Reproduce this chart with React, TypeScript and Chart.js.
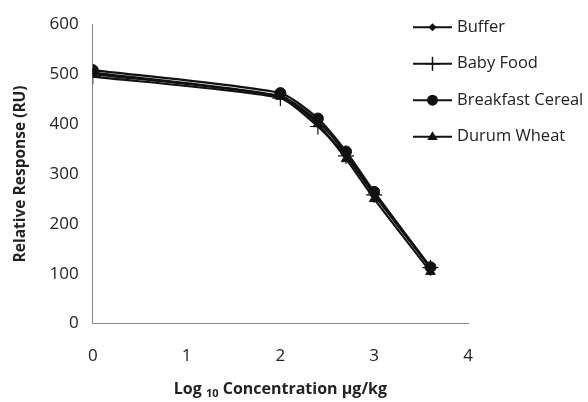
import React, { useEffect, useRef } from "react";
import { Chart, registerables } from "chart.js";

Chart.register(...registerables);

const concentrations = [0, 2, 2.4, 2.7, 3, 3.6];
const seriesNames = ["Buffer", "Baby Food", "Breakfast Cereal", "Durum Wheat"];
const buffer = [503, 456, 405, 340, 260, 112];
const babyFood = [495, 452, 395, 336, 258, 112];
const breakfastCereal = [508, 462, 411, 345, 264, 113];
const durumWheat = [500, 455, 400, 330, 250, 104];
const xTicks = [0, 1, 2, 3, 4];
const yTicks = [0, 100, 200, 300, 400, 500, 600];

const FONT = "'Open Sans', 'Noto Sans', sans-serif";

function drawMarker(ctx: CanvasRenderingContext2D, style: string, x: number, y: number, r: number) {
  ctx.save();
  ctx.fillStyle = "#111";
  ctx.strokeStyle = "#111";
  ctx.lineWidth = 1.5;
  ctx.beginPath();
  if (style === "rectRot") {
    ctx.moveTo(x, y - r);
    ctx.lineTo(x + r, y);
    ctx.lineTo(x, y + r);
    ctx.lineTo(x - r, y);
    ctx.closePath();
    ctx.fill();
  } else if (style === "cross") {
    ctx.moveTo(x - r, y);
    ctx.lineTo(x + r, y);
    ctx.moveTo(x, y - r);
    ctx.lineTo(x, y + r);
    ctx.stroke();
  } else if (style === "circle") {
    ctx.arc(x, y, r, 0, Math.PI * 2);
    ctx.fill();
  } else if (style === "triangle") {
    ctx.moveTo(x, y - r);
    ctx.lineTo(x + r * 0.95, y + r * 0.6);
    ctx.lineTo(x - r * 0.95, y + r * 0.6);
    ctx.closePath();
    ctx.fill();
  }
  ctx.restore();
}

const legendPlugin = {
  id: "customLegend",
  afterDraw(chart: any) {
    const ctx = chart.ctx as CanvasRenderingContext2D;
    const area = chart.chartArea;
    const x0 = area.right - 55;
    const y0 = area.top + 3;
    chart.data.datasets.forEach((ds: any, i: number) => {
      const y = y0 + i * 36.5;
      ctx.save();
      ctx.strokeStyle = "#111";
      ctx.lineWidth = 2;
      ctx.beginPath();
      ctx.moveTo(x0, y);
      ctx.lineTo(x0 + 39, y);
      ctx.stroke();
      ctx.restore();
      const r = ds.pointStyle === "cross" ? 7 : ds.pointStyle === "rectRot" ? 4 : 5.5;
      drawMarker(ctx, ds.pointStyle, x0 + 19.5, y, r);
      ctx.save();
      ctx.fillStyle = "#222";
      ctx.font = `16.5px ${FONT}`;
      ctx.textBaseline = "middle";
      ctx.textAlign = "left";
      ctx.fillText(ds.label, x0 + 44, y);
      ctx.restore();
    });
    // x-axis title with subscript
    const cx = (area.left + area.right) / 2;
    const ty = area.bottom + 66;
    ctx.save();
    ctx.fillStyle = "#222";
    ctx.textBaseline = "middle";
    ctx.textAlign = "left";
    const big = `bold 16px ${FONT}`;
    const small = `bold 11px ${FONT}`;
    const p1 = "Log ";
    const p2 = "10";
    const p3 = " Concentration \u00b5g/kg";
    ctx.font = big;
    const w1 = ctx.measureText(p1).width;
    const w3 = ctx.measureText(p3).width;
    ctx.font = small;
    const w2 = ctx.measureText(p2).width;
    let x = cx - (w1 + w2 + w3) / 2;
    ctx.font = big;
    ctx.fillText(p1, x, ty);
    x += w1;
    ctx.font = small;
    ctx.fillText(p2, x, ty + 4);
    x += w2;
    ctx.font = big;
    ctx.fillText(p3, x, ty);
    ctx.restore();
  },
};

export default function App() {
  const ref = useRef<HTMLCanvasElement | null>(null);
  useEffect(() => {
    if (!ref.current) return;
    const series = [buffer, babyFood, breakfastCereal, durumWheat];
    const styles = ["rectRot", "cross", "circle", "triangle"];
    const radii = [4, 8, 5.5, 5.5];
    const chart = new Chart(ref.current, {
      type: "line",
      data: {
        datasets: series.map((vals, i) => ({
          label: seriesNames[i],
          data: concentrations.map((c, j) => ({ x: c, y: vals[j] })),
          borderColor: "#111",
          backgroundColor: "#111",
          borderWidth: 2.2,
          pointStyle: styles[i],
          pointRadius: radii[i],
          pointBorderWidth: styles[i] === "cross" ? 1.2 : 1,
          tension: 0.2,
          fill: false,
        })),
      },
      options: {
        animation: false,
        responsive: true,
        maintainAspectRatio: false,
        layout: { padding: { top: 0, right: 120, bottom: 14, left: 9 } },
        plugins: { legend: { display: false }, tooltip: { enabled: false } },
        scales: {
          x: {
            type: "linear",
            min: 0,
            max: 4,
            afterBuildTicks: (scale: any) => {
              scale.ticks = xTicks.map((v) => ({ value: v }));
            },
            grid: { display: false, drawTicks: false },
            border: { color: "#888", width: 1 },
            ticks: { color: "#222", font: { family: FONT, size: 17 }, padding: 22 },
          },
          y: {
            min: 0,
            max: 600,
            afterBuildTicks: (scale: any) => {
              scale.ticks = yTicks.map((v) => ({ value: v }));
            },
            grid: { display: false, drawTicks: false },
            border: { color: "#888", width: 1 },
            ticks: { color: "#222", font: { family: FONT, size: 17 }, padding: 14 },
            title: {
              display: true,
              text: "Relative Response (RU)",
              color: "#222",
              font: { family: FONT, size: 15.5, weight: "bold" },
              padding: { top: 2, bottom: 6 },
            },
          },
        },
      },
      plugins: [legendPlugin],
    } as any);
    return () => chart.destroy();
  }, []);
  return (
    <div style={{ position: "fixed", left: 0, top: 0, width: 588, height: 402 }}>
      <canvas ref={ref} />
    </div>
  );
}
